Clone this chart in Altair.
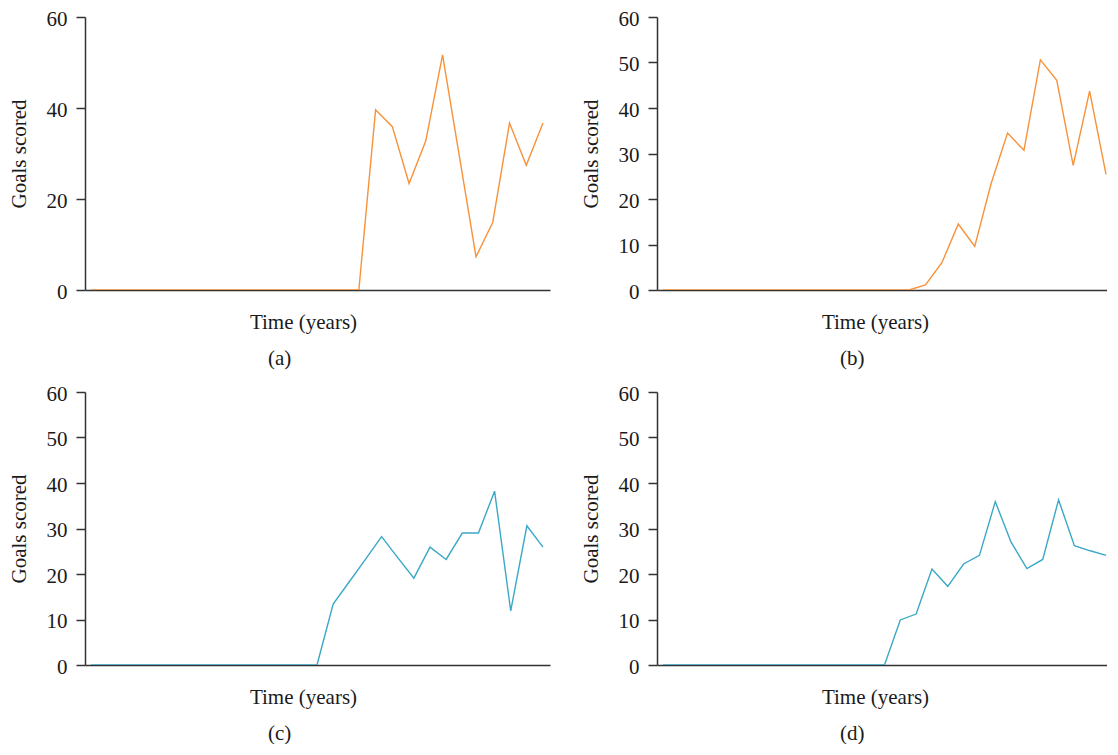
import altair as alt
import pandas as pd

# Data (time index -> goals scored)
time_ab = list(range(28))
time_cd = list(range(29))
goals_a = [0] * 17 + [39.6, 35.9, 23.4, 32.8, 51.7, 29.5, 7.3, 14.9, 36.7, 27.4, 36.7]
goals_b = [0] * 16 + [1.1, 6.0, 14.5, 9.6, 23.4, 34.5, 30.7, 50.6, 46.1, 27.4, 43.7, 25.4]
goals_c = [0] * 15 + [13.4, 18.3, 23.2, 28.2, 23.6, 19.1, 25.9, 23.2, 29.0, 29.0, 38.2, 11.9, 30.6, 25.9]
goals_d = [0] * 15 + [9.9, 11.2, 21.1, 17.3, 22.2, 24.1, 35.9, 27.0, 21.2, 23.2, 36.3, 26.2, 25.1, 24.1]

labels = ["(a)", "(b)", "(c)", "(d)"]
ORANGE = "#F7923A"
TEAL = "#3AA8C6"
FONT = "Liberation Serif"
AXC = "#333333"
TXT = "#1a1a1a"
FS = 21

W, H = 465, 273
WR = 450


def panel(times, goals, color, label, ticks, xdom, width):
    df = pd.DataFrame({"t": times, "g": goals})
    return (
        alt.Chart(df)
        .mark_line(color=color, strokeWidth=1.4, clip=True)
        .encode(
            x=alt.X(
                "t:Q",
                scale=alt.Scale(domain=xdom, nice=False, zero=False),
                axis=alt.Axis(
                    title="Time (years)",
                    labels=False,
                    ticks=False,
                    grid=False,
                    domainColor=AXC,
                    domainWidth=1.5,
                    titleFont=FONT,
                    titleFontSize=FS,
                    titleFontWeight="normal",
                    titleColor=TXT,
                    titlePadding=21,
                    titleX=218,
                    titleAlign="center",
                ),
            ),
            y=alt.Y(
                "g:Q",
                scale=alt.Scale(domain=[0, 60], nice=False),
                axis=alt.Axis(
                    title="Goals scored",
                    values=ticks,
                    grid=False,
                    domainColor=AXC,
                    domainWidth=1.5,
                    tickColor=AXC,
                    tickWidth=1.5,
                    tickSize=9,
                    labelPadding=9,
                    labelOffset=2,
                    labelFont=FONT,
                    labelFontSize=FS,
                    labelColor=TXT,
                    titleFont=FONT,
                    titleFontSize=FS,
                    titleFontWeight="normal",
                    titleColor=TXT,
                    titlePadding=17,
                ),
            ),
        )
        .properties(
            width=width,
            height=H,
            title=alt.TitleParams(
                label,
                orient="bottom",
                anchor="start",
                dx=260,
                offset=16,
                font=FONT,
                fontSize=FS,
                fontWeight="normal",
                color=TXT,
            ),
        )
    )


dom_a = [-0.358, 27.418]
dom_c = [-0.372, 28.433]
dom_b = [-0.358, 27.06]
dom_d = [-0.372, 28.06]

pa = panel(time_ab, goals_a, ORANGE, labels[0], [0, 20, 40, 60], dom_a, W)
pb = panel(time_ab, goals_b, ORANGE, labels[1], [0, 10, 20, 30, 40, 50, 60], dom_b, WR)
pc = panel(time_cd, goals_c, TEAL, labels[2], [0, 10, 20, 30, 40, 50, 60], dom_c, W)
pd_ = panel(time_cd, goals_d, TEAL, labels[3], [0, 10, 20, 30, 40, 50, 60], dom_d, WR)

chart = (
    alt.vconcat(
        alt.hconcat(pa, pb, spacing=30),
        alt.hconcat(pc, pd_, spacing=30),
        spacing=14,
    )
    .properties(padding={"left": 0, "top": 0, "right": 0, "bottom": 0})
    .configure_view(strokeWidth=0, stroke="transparent")
)

chart.save("out.html", embed_options={"renderer": "svg", "actions": False})
